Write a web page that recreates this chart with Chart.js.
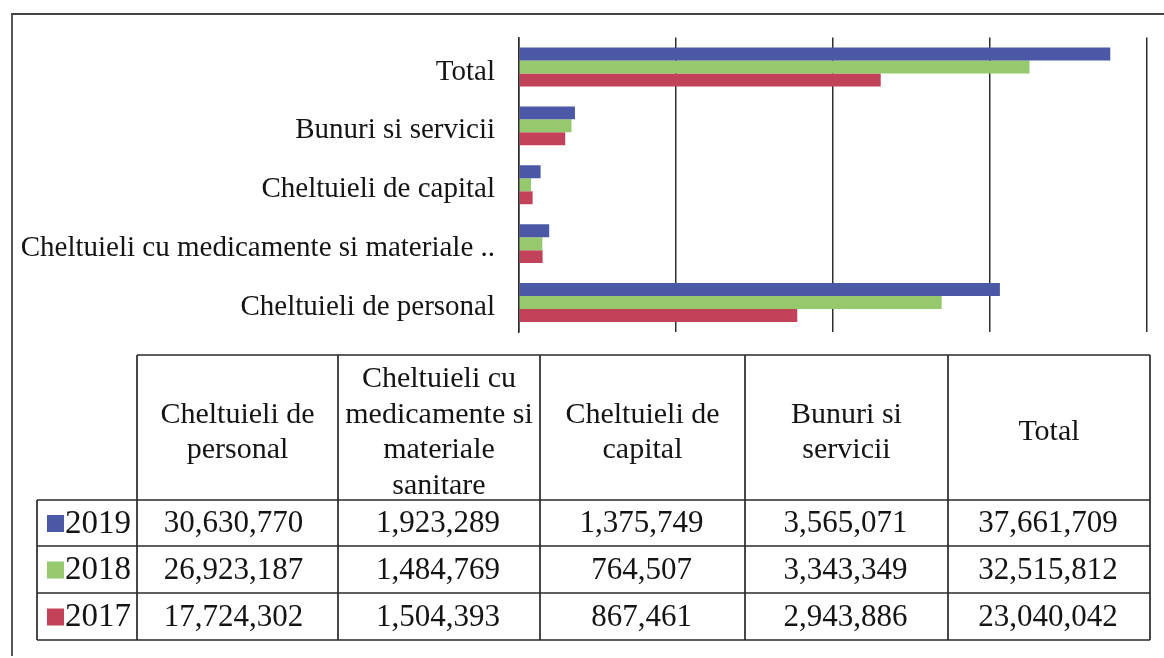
<!DOCTYPE html>
<html>
<head>
<meta charset="utf-8">
<script src="https://cdn.jsdelivr.net/npm/chart.js@4.4.1/dist/chart.umd.min.js"></script>
<style>
  html, body { margin: 0; padding: 0; background: #fff; }
  #wrap { width: 1164px; height: 658px; position: relative; }
</style>
</head>
<body>
<div id="wrap"><canvas id="cheltuieliChart"></canvas></div>
<script>
// categorii in ordinea din tabel
const categorii = [
    'Cheltuieli de personal',
    'Cheltuieli cu medicamente si materiale sanitare',
    'Cheltuieli de capital',
    'Bunuri si servicii',
    'Total'
];
const ani = ['2019', '2018', '2017'];
const valori2019 = [30630770, 1923289, 1375749, 3565071, 37661709];
const valori2018 = [26923187, 1484769, 764507, 3343349, 32515812];
const valori2017 = [17724302, 1504393, 867461, 2943886, 23040042];
const culori = ['#4b58a6', '#96c86e', '#c2425a'];
const axaMax = 40000000;
const axaPas = 10000000;

const serii = [valori2019, valori2018, valori2017];
const font = 'Liberation Serif, Times New Roman, serif';
const culoareText = '#141414';

// tabelul de date de sub grafic
const tabelPlugin = {
    id: 'tabelDate',
    afterDraw(chart) {
        const ctx = chart.ctx;
        const colX = [137, 338, 540, 745, 948, 1150];
        const legX = 37;
        const hTop = 355, hBot = 500;
        const rowY = [500, 546, 593, 640];

        ctx.save();
        // chenarul exterior
        ctx.strokeStyle = '#444';
        ctx.lineWidth = 1.8;
        ctx.beginPath();
        ctx.moveTo(12, 656);
        ctx.lineTo(12, 14);
        ctx.lineTo(1164, 14);
        ctx.stroke();

        ctx.strokeStyle = '#2a2a2a';
        ctx.lineWidth = 1.7;
        ctx.beginPath();
        // linii orizontale
        ctx.moveTo(colX[0], hTop); ctx.lineTo(colX[5], hTop);
        rowY.forEach(y => { ctx.moveTo(legX, y); ctx.lineTo(colX[5], y); });
        // linii verticale
        colX.forEach(x => { ctx.moveTo(x, hTop); ctx.lineTo(x, rowY[3]); });
        ctx.moveTo(legX, rowY[0]); ctx.lineTo(legX, rowY[3]);
        ctx.stroke();

        ctx.fillStyle = culoareText;
        ctx.textAlign = 'center';
        ctx.textBaseline = 'middle';

        // antet
        ctx.font = '30px ' + font;
        categorii.forEach((cat, i) => {
            const cx = (colX[i] + colX[i + 1]) / 2;
            const cuvinte = cat.split(' ');
            const linii = [];
            let cur = '';
            cuvinte.forEach(w => {
                const test = cur ? cur + ' ' + w : w;
                if (ctx.measureText(test).width > 192 && cur) {
                    linii.push(cur);
                    cur = w;
                } else {
                    cur = test;
                }
            });
            linii.push(cur);
            const lh = 35.5;
            const y0 = (hTop + hBot) / 2 + 5 - (linii.length - 1) * lh / 2;
            linii.forEach((l, k) => ctx.fillText(l, cx, y0 + k * lh));
        });

        // randuri cu valori
        serii.forEach((vals, r) => {
            const cy = (rowY[r] + rowY[r + 1]) / 2 + 1;
            ctx.fillStyle = culori[r];
            ctx.fillRect(47, cy - 9, 17, 17);
            ctx.fillStyle = culoareText;
            ctx.textAlign = 'left';
            ctx.font = '33px ' + font;
            ctx.fillText(ani[r], 65, cy);
            ctx.textAlign = 'center';
            ctx.font = '31px ' + font;
            vals.forEach((v, i) => {
                const cx = (colX[i] + colX[i + 1]) / 2 - (i === 0 ? 4 : 1);
                ctx.fillText(v.toLocaleString('en-US'), cx, cy);
            });
        });
        ctx.restore();
    }
};

const etichete = categorii.slice().reverse();

new Chart(document.getElementById('cheltuieliChart'), {
    type: 'bar',
    data: {
        labels: etichete,
        datasets: serii.map((vals, i) => ({
            label: ani[i],
            data: vals.slice().reverse(),
            backgroundColor: culori[i],
            borderWidth: 0,
            categoryPercentage: 0.66,
            barPercentage: 1
        }))
    },
    options: {
        indexAxis: 'y',
        responsive: true,
        maintainAspectRatio: false,
        animation: false,
        layout: { padding: { top: 37.5, bottom: 326, right: 17, left: 0 } },
        plugins: {
            legend: { display: false },
            tooltip: { enabled: false }
        },
        scales: {
            x: {
                min: 0,
                max: axaMax,
                ticks: { display: false, stepSize: axaPas },
                grid: { color: '#2e2e2e', lineWidth: 1.5, drawTicks: false },
                border: { display: false },
                afterFit(scale) {
                    scale.height = 0;
                    scale.paddingLeft = 0;
                    scale.paddingRight = 0;
                }
            },
            y: {
                grid: { display: false, drawTicks: false },
                border: { display: true, color: '#2e2e2e', width: 1.5 },
                ticks: {
                    padding: 24,
                    labelOffset: 5,
                    color: culoareText,
                    font: { family: font, size: 29 },
                    callback(value) {
                        const l = this.getLabelForValue(value);
                        if (l.length <= 40) return l;
                        let s = '';
                        for (const w of l.split(' ')) {
                            if ((s + ' ' + w).trim().length > 38) break;
                            s = (s + ' ' + w).trim();
                        }
                        return s + ' ..';
                    }
                },
                afterFit(scale) {
                    scale.width = 519;
                    scale.paddingTop = 0;
                    scale.paddingBottom = 0;
                }
            }
        }
    },
    plugins: [tabelPlugin]
});
</script>
</body>
</html>
